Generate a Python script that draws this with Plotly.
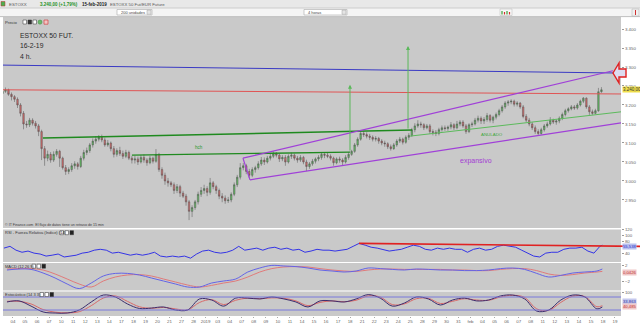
import plotly.graph_objects as go

# ---------------- data ----------------
day_labels = ["04", "05", "06", "07", "10", "11", "12", "13", "14", "17", "18", "19", "20", "21",
              "27", "28", "2019", "03", "04", "07", "08", "09", "10", "11", "14", "15", "16", "17",
              "18", "21", "22", "23", "24", "25", "28", "29", "30", "31", "feb", "04", "05", "06",
              "07", "08", "11", "12", "13", "14", "15", "18", "19"]
bars_per_day = 4
n_days = 50  # Dec 3 .. Feb 15 (4h bars)

opens = [3230, 3236, 3240, 3228, 3222, 3215, 3200, 3178, 3150, 3148, 3160, 3152, 3145, 3130, 3085, 3060,
         3070, 3055, 3070, 3078, 3060, 3035, 3025, 3030, 3040, 3045, 3038, 3060, 3075, 3080, 3095, 3105,
         3110, 3115, 3108, 3095, 3100, 3085, 3070, 3080, 3072, 3065, 3075, 3060, 3055, 3058, 3050, 3062,
         3055, 3048, 3060, 3052, 3070, 3030, 3015, 3000, 2995, 2990, 2975, 2985, 2968, 2960, 2945, 2920,
         2930, 2945, 2965, 2975, 2980, 2970, 2995, 2985, 2975, 2960, 2955, 2948, 2950, 2965, 2990, 3010,
         3035, 3040, 3025, 3015, 3030, 3035, 3045, 3055, 3050, 3060, 3065, 3072, 3068, 3058, 3062, 3050,
         3065, 3068, 3060, 3055, 3062, 3050, 3038, 3045, 3052, 3058, 3062, 3070, 3068, 3065, 3060, 3048,
         3058, 3055, 3050, 3062, 3070, 3078, 3095, 3110, 3125, 3122, 3118, 3115, 3110, 3112, 3105, 3100,
         3098, 3090, 3085, 3095, 3105, 3110, 3102, 3115, 3120, 3135, 3145, 3150, 3148, 3140, 3145, 3130,
         3128, 3125, 3135, 3140, 3138, 3142, 3148, 3140, 3150, 3155, 3145, 3130, 3148, 3150, 3160, 3165,
         3158, 3162, 3172, 3160, 3168, 3175, 3185, 3195, 3205, 3208, 3210, 3202, 3205, 3195, 3170, 3160,
         3150, 3140, 3130, 3125, 3135, 3145, 3150, 3160, 3155, 3158, 3165, 3175, 3185, 3190, 3195, 3192,
         3200, 3210, 3218, 3195, 3182, 3178, 3185, 3235]
highs = [3242, 3246, 3243, 3233, 3226, 3220, 3205, 3184, 3158, 3166, 3165, 3158, 3150, 3135, 3092, 3080,
         3076, 3078, 3084, 3082, 3064, 3042, 3036, 3047, 3052, 3050, 3066, 3082, 3088, 3100, 3112, 3118,
         3121, 3122, 3114, 3108, 3104, 3092, 3086, 3090, 3080, 3082, 3080, 3066, 3066, 3064, 3068, 3070,
         3060, 3066, 3064, 3084, 3074, 3036, 3022, 3008, 3000, 2996, 2992, 2990, 2974, 2966, 2950, 2936,
         2950, 2972, 2984, 2990, 2986, 3008, 3000, 2990, 2980, 2968, 2962, 2958, 2970, 2996, 3016, 3047,
         3047, 3045, 3032, 3036, 3040, 3052, 3063, 3062, 3066, 3072, 3078, 3076, 3072, 3068, 3068, 3070,
         3075, 3072, 3066, 3068, 3066, 3056, 3050, 3058, 3062, 3068, 3076, 3075, 3074, 3070, 3064, 3062,
         3064, 3060, 3068, 3076, 3082, 3100, 3115, 3130, 3132, 3128, 3124, 3120, 3118, 3116, 3110, 3106,
         3102, 3096, 3100, 3110, 3116, 3114, 3120, 3126, 3140, 3152, 3160, 3156, 3152, 3150, 3150, 3136,
         3134, 3140, 3146, 3146, 3146, 3155, 3152, 3158, 3160, 3160, 3150, 3152, 3156, 3166, 3172, 3170,
         3168, 3179, 3176, 3172, 3180, 3190, 3200, 3210, 3213, 3215, 3214, 3210, 3208, 3200, 3176, 3166,
         3155, 3146, 3136, 3140, 3150, 3156, 3168, 3164, 3162, 3170, 3180, 3190, 3194, 3200, 3200, 3205,
         3214, 3221, 3220, 3200, 3188, 3190, 3245, 3247]
lows = [3226, 3232, 3224, 3212, 3208, 3192, 3170, 3136, 3140, 3142, 3146, 3138, 3118, 3055, 3040, 3052,
        3048, 3050, 3064, 3037, 3030, 3016, 3018, 3024, 3032, 3030, 3034, 3054, 3068, 3074, 3088, 3098,
        3104, 3102, 3090, 3090, 3078, 3062, 3064, 3066, 3058, 3060, 3055, 3046, 3046, 3042, 3046, 3048,
        3040, 3044, 3046, 3048, 3024, 3006, 2990, 2985, 2984, 2966, 2968, 2958, 2955, 2935, 2897, 2905,
        2924, 2938, 2958, 2966, 2960, 2964, 2978, 2966, 2952, 2944, 2940, 2942, 2944, 2960, 2984, 3004,
        3028, 3018, 3008, 3010, 3022, 3030, 3040, 3042, 3046, 3054, 3060, 3062, 3050, 3052, 3040, 3046,
        3058, 3054, 3048, 3050, 3044, 3026, 3032, 3040, 3046, 3052, 3056, 3060, 3060, 3054, 3040, 3044,
        3048, 3040, 3046, 3056, 3066, 3074, 3090, 3106, 3116, 3112, 3108, 3104, 3104, 3098, 3094, 3090,
        3084, 3080, 3082, 3090, 3100, 3096, 3098, 3108, 3116, 3128, 3140, 3140, 3134, 3136, 3124, 3120,
        3118, 3120, 3130, 3132, 3132, 3136, 3134, 3136, 3144, 3140, 3124, 3126, 3142, 3146, 3154, 3150,
        3150, 3156, 3154, 3152, 3162, 3170, 3180, 3190, 3198, 3202, 3196, 3196, 3190, 3165, 3155, 3144,
        3134, 3124, 3121, 3122, 3130, 3140, 3146, 3150, 3148, 3152, 3160, 3170, 3180, 3186, 3187, 3188,
        3196, 3205, 3190, 3174, 3174, 3176, 3182, 3232]
closes = [3236, 3240, 3228, 3222, 3215, 3200, 3178, 3150, 3148, 3160, 3152, 3145, 3130, 3085, 3060, 3070,
          3055, 3070, 3078, 3060, 3035, 3025, 3030, 3040, 3045, 3038, 3060, 3075, 3080, 3095, 3105, 3110,
          3115, 3108, 3095, 3100, 3085, 3070, 3080, 3072, 3065, 3075, 3060, 3055, 3058, 3050, 3062, 3055,
          3048, 3060, 3052, 3070, 3030, 3015, 3000, 2995, 2990, 2975, 2985, 2968, 2960, 2945, 2920, 2930,
          2945, 2965, 2975, 2980, 2970, 2995, 2985, 2975, 2960, 2955, 2948, 2950, 2965, 2990, 3010, 3035,
          3040, 3025, 3015, 3030, 3035, 3045, 3055, 3050, 3060, 3065, 3072, 3068, 3058, 3062, 3050, 3065,
          3068, 3060, 3055, 3062, 3050, 3038, 3045, 3052, 3058, 3062, 3070, 3068, 3065, 3060, 3048, 3058,
          3055, 3050, 3062, 3070, 3078, 3095, 3110, 3125, 3122, 3118, 3115, 3110, 3112, 3105, 3100, 3098,
          3090, 3085, 3095, 3105, 3110, 3102, 3115, 3120, 3135, 3145, 3150, 3148, 3140, 3145, 3130, 3128,
          3125, 3135, 3140, 3138, 3142, 3148, 3140, 3150, 3155, 3145, 3130, 3148, 3150, 3160, 3165, 3158,
          3162, 3172, 3160, 3168, 3175, 3185, 3195, 3205, 3208, 3210, 3202, 3205, 3195, 3170, 3160, 3150,
          3140, 3130, 3125, 3135, 3145, 3150, 3160, 3155, 3158, 3165, 3175, 3185, 3190, 3195, 3192, 3200,
          3210, 3218, 3195, 3182, 3178, 3185, 3235, 3240]

# RSI (two readings per day + last)
rsi = [57, 63, 50, 43, 47, 40, 37, 30, 33, 37, 27, 30, 33, 40, 43, 50, 53, 50, 40, 43,
       37, 33, 37, 33, 37, 43, 30, 27, 30, 27, 30, 23, 37, 47, 50, 43, 40, 43, 50, 63,
       50, 53, 57, 50, 57, 60, 53, 57, 50, 53, 43, 47, 53, 50, 50, 47, 50, 53, 63, 73,
       67, 60, 57, 53, 47, 50, 53, 60, 67, 63, 53, 50, 57, 53, 57, 53, 53, 43, 53, 57,
       50, 53, 63, 67, 63, 60, 50, 40, 30, 27, 40, 43, 43, 53, 57, 57, 60, 47, 40, 63, 67]
# MACD and signal (one reading per day + last)
macd = [0.75, 1.0, 0.9, 0.0, -1.25, -2.75, -3.9, -2.5, -0.75, -0.1, -0.1, -0.5, -1.25, -2.0, -2.75,
        -3.5, -3.5, -2.5, -2.0, -1.5, 0.25, 1.25, 1.9, 1.75, 1.6, 1.25, 0.75, 0.5, 0.25, 0.5, 1.25,
        1.1, 0.9, 0.75, 1.0, 0.9, 0.75, 0.75, 0.6, 0.6, 0.75, 1.1, 1.25, 0.9, -0.1, -1.0, -0.6, 0.0,
        0.25, 0.5, 1.0]
signal = [1.0, 1.1, 1.1, 0.75, -0.25, -1.5, -2.75, -3.5, -2.0, -1.0, -0.5, -0.4, -0.75, -1.5, -2.25,
          -3.0, -3.5, -3.1, -2.5, -2.0, -1.0, 0.25, 1.1, 1.5, 1.6, 1.5, 1.1, 0.75, 0.5, 0.4, 0.75,
          1.0, 1.0, 0.9, 0.9, 0.9, 0.9, 0.75, 0.75, 0.6, 0.6, 0.9, 1.1, 1.1, 0.6, -0.25, -0.6, -0.4,
          0.0, 0.25, 0.4]
# Stochastic %K and %D (one reading per day + last)
stoch_k = [57, 62, 38, 11, 6, 6, 20, 57, 89, 80, 48, 27, 29, 34, 20, 20, 71, 66, 38, 75, 75, 71, 80,
           71, 57, 34, 62, 62, 57, 71, 91, 75, 38, 52, 80, 71, 43, 66, 75, 62, 66, 85, 89, 71, 15, 20,
           66, 89, 80, 25, 34]
stoch_d = [60, 60, 48, 22, 10, 7, 12, 40, 75, 85, 60, 35, 28, 32, 25, 20, 55, 68, 45, 65, 75, 72, 76,
           74, 62, 40, 55, 62, 58, 65, 85, 80, 45, 48, 72, 74, 50, 60, 72, 66, 65, 80, 88, 78, 25, 18,
           55, 84, 82, 35, 40]

price_ticks = [2950, 3000, 3050, 3100, 3150, 3200, 3250, 3300, 3350, 3400]
price_tick_text = ["2.950", "3.000", "3.050", "3.100", "3.150", "3.200", "3.250", "3.300", "3.350", "3.400"]
rsi_ticks = [120, 100, 80, 40]
macd_ticks = [2, -2]
stoch_ticks = [100]
stoch_levels = [80, 20]
last_price = 3240

# trend lines drawn by the analyst (day index, price)
tl_blue = (0.17, 3305, 51.5, 3284)
tl_red = (0.17, 3240, 51.5, 3229)
tl_neck1 = (3.49, 3113, 34.14, 3134)
tl_neck2 = (10.88, 3068, 28.99, 3076)
tl_anulado = (33.97, 3118, 51.5, 3182)
tl_chan_up = (20.10, 3060, 50.83, 3290)
tl_chan_lo = (20.68, 3003, 51.5, 3153)
tl_target1 = (28.99, 3076, 3253)
tl_target2 = (33.81, 3134, 3355)
rsi_res = (73, 63)

# ---------------- figure ----------------
W, H = 640, 323


def px(x):
    return x / W


def py(y):
    return 1 - y / H


FONT = "Liberation Sans"
bar_x = [d + (j + 0.5) / bars_per_day for d in range(n_days) for j in range(bars_per_day)]
day_x = [d + 0.5 for d in range(n_days)] + [49.95]
rsi_x = [d + 0.25 + 0.5 * k for d in range(n_days) for k in range(2)] + [49.95]

fig = go.Figure()
fig.add_trace(go.Candlestick(
    x=bar_x, open=opens, high=highs, low=lows, close=closes,
    increasing=dict(fillcolor="#62c062", line=dict(color="#505050", width=0.5)),
    decreasing=dict(fillcolor="#d46a6a", line=dict(color="#505050", width=0.5)),
    whiskerwidth=0, xaxis="x", yaxis="y", showlegend=False, hoverinfo="skip"))
fig.add_trace(go.Scatter(x=rsi_x, y=rsi, mode="lines", line=dict(color="#3434e6", width=1),
                         xaxis="x", yaxis="y2", showlegend=False, hoverinfo="skip"))
fig.add_trace(go.Scatter(x=day_x, y=signal, mode="lines", line=dict(color="#e07a7a", width=1, shape="spline"),
                         xaxis="x", yaxis="y3", showlegend=False, hoverinfo="skip"))
fig.add_trace(go.Scatter(x=day_x, y=macd, mode="lines", line=dict(color="#6464e6", width=1, shape="spline"),
                         xaxis="x", yaxis="y3", showlegend=False, hoverinfo="skip"))
fig.add_trace(go.Scatter(x=day_x, y=stoch_d, mode="lines", line=dict(color="#d86a6a", width=1, shape="spline"),
                         xaxis="x", yaxis="y4", showlegend=False, hoverinfo="skip"))
fig.add_trace(go.Scatter(x=day_x, y=stoch_k, mode="lines", line=dict(color="#3c2d6e", width=1, shape="spline"),
                         xaxis="x", yaxis="y4", showlegend=False, hoverinfo="skip"))

tickfont = dict(family=FONT, size=4.4, color="#666666")
common_y = dict(side="right", showgrid=False, zeroline=False, showline=False, ticks="outside",
                ticklen=2, tickcolor="#999999", tickfont=tickfont, automargin=False, fixedrange=True,
                anchor="x")
fig.update_layout(
    template="none", width=W, height=H, margin=dict(l=0, r=0, t=0, b=0),
    paper_bgcolor="#ffffff", plot_bgcolor="#c9c9c9", showlegend=False,
    xaxis=dict(domain=[px(3), px(621)], range=[0.17, 51.5], anchor="y4", tickmode="array",
               tickvals=list(range(1, 52)), ticktext=day_labels, tickangle=0, ticks="outside",
               ticklen=1, tickcolor="#aaaaaa", tickfont=dict(family=FONT, size=4.4, color="#666666"),
               showgrid=False, zeroline=False, showline=False, rangeslider=dict(visible=False),
               automargin=False, fixedrange=True),
    yaxis=dict(domain=[py(228), py(17)], range=[2876.2, 3431.6], tickmode="array",
               tickvals=price_ticks, ticktext=price_tick_text, **common_y),
    yaxis2=dict(domain=[py(262), py(229.5)], range=[10, 120], tickmode="array",
                tickvals=rsi_ticks, **common_y),
    yaxis3=dict(domain=[py(290.5), py(263)], range=[-4.375, 2.5], tickmode="array",
                tickvals=macd_ticks, **common_y),
    yaxis4=dict(domain=[py(316), py(291.5)], range=[-7.7, 105.4], tickmode="array",
                tickvals=stoch_ticks, **common_y),
)

shapes = []
ann = []


def dline(t, color, width, yref="y"):
    shapes.append(dict(type="line", xref="x", yref=yref, x0=t[0], y0=t[1], x1=t[2], y1=t[3],
                       line=dict(color=color, width=width)))


dline(tl_blue, "#3a3ac4", 1)
dline(tl_red, "#e05555", 1)
dline(tl_neck1, "#1f8a1f", 1.4)
dline(tl_neck2, "#1f8a1f", 1.4)
dline(tl_anulado, "#5cba5c", 1)
dline(tl_chan_up, "#a040d8", 1.2)
dline(tl_chan_lo, "#a040d8", 1.2)
dline((tl_chan_up[0], tl_chan_up[1], tl_chan_lo[0], tl_chan_lo[1]), "#a040d8", 1.2)
for lv in stoch_levels:
    shapes.append(dict(type="line", xref="x domain", yref="y4", x0=0, x1=1, y0=lv, y1=lv,
                       line=dict(color="#7878dc", width=1)))
# RSI resistance
shapes.append(dict(type="line", xref="paper", yref="y2", x0=px(359), x1=1.0, y0=rsi_res[0], y1=rsi_res[1],
                   line=dict(color="#e02222", width=1.6)))

# target arrows
for t in (tl_target1, tl_target2):
    ann.append(dict(x=t[0], y=t[2], ax=t[0], ay=t[1], xref="x", yref="y", axref="x", ayref="y",
                    text="", showarrow=True, arrowhead=2, arrowsize=0.8, arrowwidth=1,
                    arrowcolor="#59b859"))

# ---- chrome: toolbar rows ----
shapes.append(dict(type="rect", xref="paper", yref="paper", x0=0, x1=1, y0=py(8), y1=1,
                   fillcolor="#e8e8e8", line=dict(width=0), layer="below"))
shapes.append(dict(type="rect", xref="paper", yref="paper", x0=0, x1=1, y0=py(16.5), y1=py(8),
                   fillcolor="#f4f4f4", line=dict(width=0), layer="below"))
shapes.append(dict(type="line", xref="paper", yref="paper", x0=0, x1=1, y0=py(8), y1=py(8),
                   line=dict(color="#c4c4c4", width=0.8)))
shapes.append(dict(type="line", xref="paper", yref="paper", x0=0, x1=1, y0=py(16.6), y1=py(16.6),
                   line=dict(color="#b0b0b0", width=0.8)))
for (a, b) in ((117, 152), (304, 347)):
    shapes.append(dict(type="rect", xref="paper", yref="paper", x0=px(a), x1=px(b), y0=py(15), y1=py(9.5),
                       fillcolor="#ffffff", line=dict(color="#a8a8a8", width=0.6)))
    shapes.append(dict(type="rect", xref="paper", yref="paper", x0=px(b - 5), x1=px(b - 1), y0=py(14.3),
                       y1=py(10.2), fillcolor="#e4e4e4", line=dict(color="#a0a0a0", width=0.5)))
# small chart icon and right icon
shapes.append(dict(type="rect", xref="paper", yref="paper", x0=px(500), x1=px(512), y0=py(15.5), y1=py(9),
                   fillcolor="#f7f7f7", line=dict(color="#b8b8b8", width=0.5)))
for i, c in enumerate(["#3aa03a", "#d03030", "#3aa03a", "#d03030"]):
    shapes.append(dict(type="line", xref="paper", yref="paper", x0=px(502 + 2.5 * i), x1=px(502 + 2.5 * i),
                       y0=py(14.5), y1=py(11 + (i % 2)), line=dict(color=c, width=1.2)))
shapes.append(dict(type="rect", xref="paper", yref="paper", x0=px(632), x1=px(639), y0=py(16), y1=py(9),
                   fillcolor="#f0f0f0", line=dict(color="#b0b0b0", width=0.5)))
shapes.append(dict(type="line", xref="paper", yref="paper", x0=px(635.5), x1=px(635.5), y0=py(15), y1=py(10),
                   line=dict(color="#d03030", width=1)))
# title-row icon
shapes.append(dict(type="rect", xref="paper", yref="paper", x0=px(1), x1=px(5), y0=py(6), y1=py(1.5),
                   fillcolor="#4caf50", line=dict(color="#c03030", width=0.5)))
# "Precio" header icons
for (a, c) in ((23, "#ffffff"), (28, "#333333"), (33, "#ffffff")):
    shapes.append(dict(type="rect", xref="paper", yref="paper", x0=px(a), x1=px(a + 3.5), y0=py(24),
                       y1=py(20), fillcolor=c, line=dict(color="#333333", width=0.5)))
shapes.append(dict(type="circle", xref="paper", yref="paper", x0=px(38), x1=px(42), y0=py(24.2), y1=py(20),
                   fillcolor="#69b86a", line=dict(color="#3a8a3a", width=0.5)))
shapes.append(dict(type="rect", xref="paper", yref="paper", x0=px(44), x1=px(48), y0=py(24.2), y1=py(20),
                   fillcolor="#f2c4c4", line=dict(color="#d03030", width=0.6)))
# subpanel header icons
for (a, yy) in ((60, 232.7), (32, 266.2), (40, 294.5)):
    for k, c in enumerate(("#ffffff", "#ffffff", "#222222")):
        shapes.append(dict(type="rect", xref="paper", yref="paper", x0=px(a + 5 * k), x1=px(a + 5 * k + 3.5),
                           y0=py(yy + 2), y1=py(yy - 2), fillcolor=c, line=dict(color="#333333", width=0.5)))
# red outline arrow at the right edge
arrow_pts = [(613, 73), (619, 63), (619, 69), (626, 69), (626, 77), (619, 77), (619, 83)]
path = "M " + " L ".join(f"{px(a):.5f},{py(b):.5f}" for a, b in arrow_pts) + " Z"
shapes.append(dict(type="path", xref="paper", yref="paper", path=path, fillcolor="#dcdcf0",
                   line=dict(color="#e02020", width=1.4)))
fig.update_layout(shapes=shapes)


def text(x, y, s, size=5, color="#333333", bold=False, anchor="left", bg=None, ref=("paper", "paper")):
    d = dict(x=x, y=y, xref=ref[0], yref=ref[1], text=f"<b>{s}</b>" if bold else s, showarrow=False,
             xanchor=anchor, yanchor="middle", font=dict(family=FONT, size=size, color=color))
    if bg:
        d.update(bgcolor=bg, borderpad=0)
    ann.append(d)


# toolbar text
text(px(7), py(4), "ESTOXX", 4.4, "#555555")
text(px(38), py(4), "3.240,00 (+1,79%)", 4.5, "#239023", bold=True)
text(px(80), py(4), "15-feb-2019", 4.5, "#222222", bold=True)
text(px(108), py(4), "ESTOXX 50 Fut/EUR Future", 4.3, "#555555")
text(px(119), py(12.3), "200 unidades", 4.0, "#444444")
text(px(306), py(12.3), "4 horas", 4.0, "#444444")
text(px(3), py(22), "Precio", 4.2, "#333333")
# chart labels
text(px(18), py(36), "ESTOXX 50 FUT.", 6.8, "#2a2a2a")
text(px(18), py(46), "16-2-19", 6.8, "#2a2a2a")
text(px(18), py(56), "4 h.", 6.8, "#2a2a2a")
text(16.45, 3087, "hch", 4.6, "#2f9a2f", anchor="center", ref=("x", "y"))
text(40.78, 3121, "ANULADO", 4.4, "#3ea83e", anchor="center", ref=("x", "y"))
text(39.46, 3053, "expansivo", 7, "#a43cd4", anchor="center", ref=("x", "y"))
text(px(3), py(225), "© IT Finance.com  El flujo de datos tiene un retraso de 15 min", 3.6, "#3a3a3a")
text(px(3), py(232.7), "RSI - Fuerza Relativa (Índice) (14)", 4.0, "#333333")
text(px(3), py(266.2), "MACD (12 26 9)", 4.0, "#333333")
text(px(3), py(294.5), "Estocástico (14 3 3)", 4.0, "#333333")
# right-axis value boxes
text(px(621.5), last_price, "3.240,00", 4.5, "#333333", bg="#f0df4a", ref=("paper", "y"))
text(px(621.5), py(246), "55,538", 4.2, "#2c2ccc", bg="#b8c0ee")
text(px(621.5), py(272), "0,0426", 4.2, "#c03030", bg="#f0c8c8")
text(px(621.5), py(301), "33,863", 4.2, "#3030a0", bg="#c4c8ee")
text(px(621.5), py(306.2), "40,485", 4.2, "#c03030", bg="#f0c8c8")
fig.update_layout(annotations=ann)

fig.write_html("out.html")
